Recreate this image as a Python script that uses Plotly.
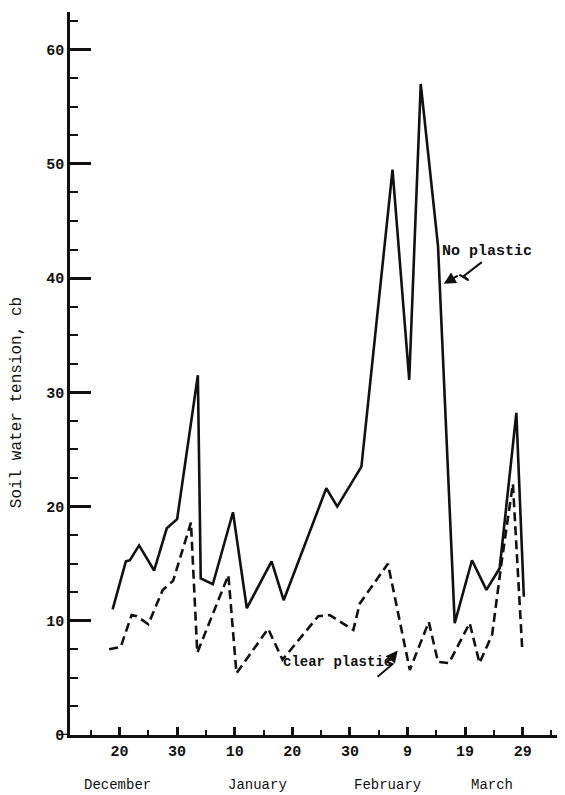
import plotly.graph_objects as go

# ---- data (days counted on a continuous scale; 20 = Dec 20, 30 = Dec 30, 40 = Jan 10 ...) ----
no_plastic_day = [18.8, 21.1, 21.8, 23.4, 26.0, 28.2, 30.0, 33.6, 34.1, 36.2, 39.7, 42.1,
                  46.4, 48.5, 55.9, 57.8, 62.0, 67.4, 70.3, 72.3, 75.3, 78.2, 81.2, 83.7,
                  86.0, 88.9, 90.2]
no_plastic_cb = [11.0, 15.2, 15.3, 16.6, 14.4, 18.1, 18.9, 31.5, 13.7, 13.2, 19.5, 11.1,
                 15.2, 11.8, 21.6, 20.0, 23.5, 49.5, 31.1, 57.0, 42.8, 9.8, 15.3, 12.7,
                 14.6, 28.2, 12.1]

clear_plastic_day = [18.2, 20.2, 22.1, 23.0, 25.0, 27.5, 29.3, 32.4, 33.5, 38.9, 40.3, 45.8,
                     48.3, 54.5, 56.5, 60.6, 61.7, 66.6, 70.4, 73.7, 75.3, 77.2, 80.8, 82.5,
                     84.7, 86.3, 88.3, 89.9]
clear_plastic_cb = [7.5, 7.7, 10.5, 10.4, 9.7, 12.7, 13.5, 18.6, 7.2, 14.0, 5.4, 9.3,
                    6.6, 10.4, 10.5, 9.2, 11.5, 15.0, 5.7, 9.9, 6.4, 6.3, 9.8, 6.3,
                    8.8, 15.0, 22.0, 7.7]

x_tick_days = [20, 30, 40, 50, 60, 70, 80, 90]
x_tick_labels = ["20", "30", "10", "20", "30", "9", "19", "29"]
y_tick_vals = [0, 10, 20, 30, 40, 50, 60]
y_tick_labels = ["0", "10", "20", "30", "40", "50", "60"]
month_names = ["December", "January", "February", "March"]

# ---- layout constants ----
month_pos = [19.6, 43.9, 66.6, 84.6]
FONT = "Liberation Mono"
INK = "#111111"

fig = go.Figure()
fig.add_trace(go.Scatter(x=no_plastic_day, y=no_plastic_cb, mode="lines",
                         line=dict(color=INK, width=2.6), name="No plastic",
                         showlegend=False))
fig.add_trace(go.Scatter(x=clear_plastic_day, y=clear_plastic_cb, mode="lines",
                         line=dict(color=INK, width=2.6, dash="9px,5px"),
                         name="clear plastic", showlegend=False))

fig.update_xaxes(range=[11.4, 97.0], showgrid=False, zeroline=False,
                 showline=True, linecolor=INK, linewidth=2.5,
                 tickmode="array", tickvals=x_tick_days, ticktext=x_tick_labels,
                 ticks="inside", ticklen=8, tickwidth=2.5, tickcolor=INK,
                 minor=dict(ticks="inside", ticklen=5, tickwidth=2, tickcolor=INK,
                            tick0=15, dtick=5, showgrid=False),
                 tickfont=dict(family=FONT, size=15, color=INK, weight="bold"))
fig.update_yaxes(range=[0, 63.3], showgrid=False, zeroline=False,
                 showline=True, linecolor=INK, linewidth=2.5,
                 tickmode="array", tickvals=y_tick_vals, ticktext=y_tick_labels,
                 ticks="inside", ticklen=21, tickwidth=2.5, tickcolor=INK,
                 minor=dict(ticks="inside", ticklen=8, tickwidth=2, tickcolor=INK,
                            tick0=0, dtick=2.5, showgrid=False),
                 tickfont=dict(family=FONT, size=15, color=INK, weight="bold"))

annotations = [
    dict(text="Soil water tension, cb", xref="paper", yref="paper", x=-0.1075, y=0.459,
         xanchor="center", yanchor="middle",
         textangle=-90, showarrow=False, font=dict(family=FONT, size=16, color=INK)),
    dict(text="No plastic", x=75.6, y=42.3, xanchor="left", yanchor="middle",
         xref="x", yref="y", showarrow=False,
         font=dict(family=FONT, size=15, color=INK, weight="bold")),
    dict(text="clear plastic", x=57.8, y=6.4, xref="x", yref="y", showarrow=False,
         xanchor="center", yanchor="middle",
         font=dict(family=FONT, size=14, color=INK, weight="bold")),
    # arrow heads of the zig-zag pointers
    dict(x=76.3, y=39.5, ax=79.0, ay=40.3, xref="x", yref="y", axref="x", ayref="y",
         text="", showarrow=True, arrowhead=2, arrowsize=1.2, arrowwidth=2, arrowcolor=INK),
    dict(x=68.3, y=7.4, ax=67.2, ay=6.7, xref="x", yref="y", axref="x", ayref="y",
         text="", showarrow=True, arrowhead=2, arrowsize=1.2, arrowwidth=2, arrowcolor=INK),
]
for name, pos in zip(month_names, month_pos):
    annotations.append(dict(text=name, x=pos, y=-0.0692, xref="x", yref="paper",
                            xanchor="center", yanchor="middle", showarrow=False,
                            font=dict(family=FONT, size=14, color=INK)))

shapes = [
    dict(type="path", xref="x", yref="y",
         path="M 82.9,41.4 L 79.8,40.2 L 80.6,39.8 L 79.0,40.3",
         line=dict(color=INK, width=2)),
    dict(type="path", xref="x", yref="y",
         path="M 64.8,5.1 L 67.4,6.2 L 66.4,6.4 L 67.2,6.7",
         line=dict(color=INK, width=2)),
    # stub of the x axis line to the left of the y axis
    dict(type="line", xref="paper", yref="y", x0=-0.025, x1=0, y0=0, y1=0,
         line=dict(color=INK, width=2.5)),
]

# The page body has an 8px margin, so the figure is sized/margined to compensate.
fig.update_layout(width=557, height=787, margin=dict(l=62, r=2, t=4, b=60),
                  paper_bgcolor="white", plot_bgcolor="white",
                  annotations=annotations, shapes=shapes)

fig.write_html("out.html")
